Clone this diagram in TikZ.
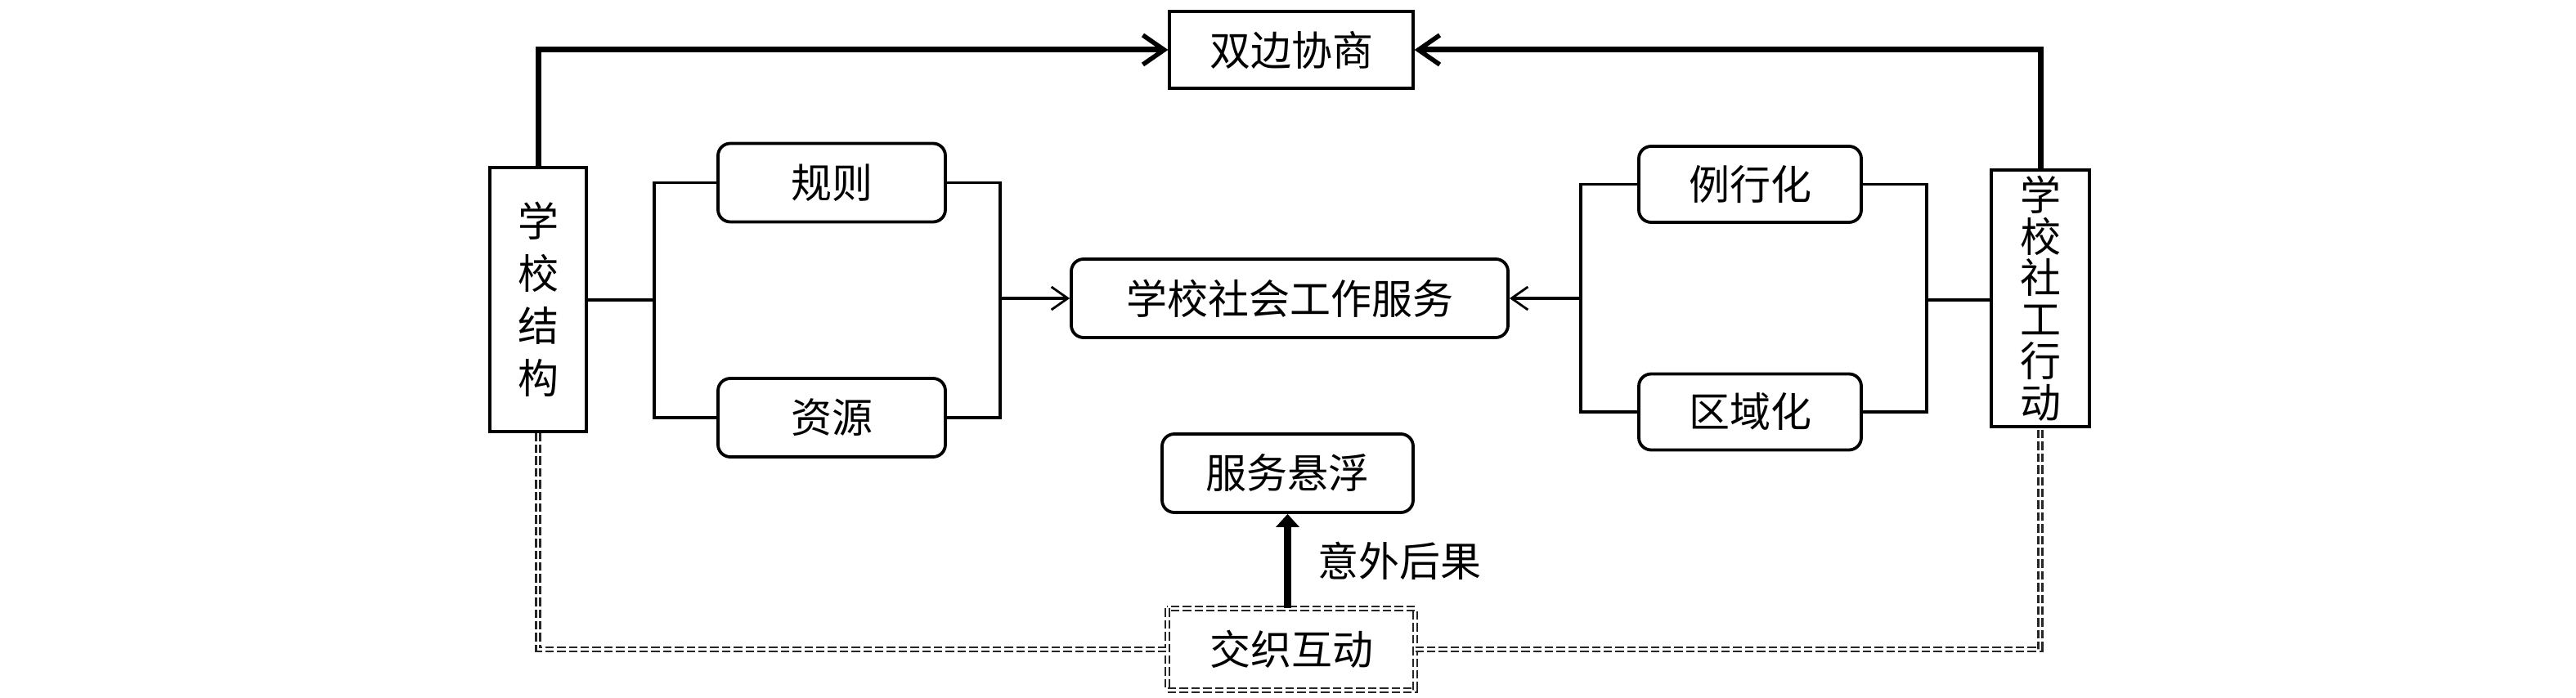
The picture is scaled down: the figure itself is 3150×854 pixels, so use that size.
\documentclass[tikz,border=0pt]{standalone}
\usepackage{fontspec}
\newfontfamily\cjk{Noto Sans CJK SC}
\usetikzlibrary{arrows.meta}
\tikzset{
  plainbox/.style={draw=black, line width=0.8pt, inner sep=0pt, font=\cjk\fontsize{12.5pt}{16pt}\selectfont, align=center},
  roundbox/.style={plainbox, line width=0.95pt, rounded corners=3.75pt},
  dbl/.style={draw=black!85, line width=0.55pt, double=white, double distance=0.7pt, dash pattern=on 2.6pt off 1pt},
  bracket/.style={draw=black, line width=0.8pt},
  midarrow/.style={bracket, -{Straight Barb[length=5pt,width=7pt,line width=0.7pt]}},
  toparrow/.style={draw=black, line width=1.75pt, -{Straight Barb[length=6.5pt,width=9pt,line width=1.4pt]}},
  thickup/.style={draw=black, line width=2.4pt, -{Triangle[length=4pt,width=7pt]}},
  lbl/.style={inner sep=0pt, font=\cjk\fontsize{12.5pt}{16pt}\selectfont}
}
\begin{document}
\begin{tikzpicture}[x=0.25pt, y=-0.25pt]
\useasboundingbox (0,0) rectangle (3150,854);
\node[plainbox, minimum width=74.5pt, minimum height=23.5pt] (neg) at (1579,61) {双边协商};
\node[plainbox, minimum width=29.5pt, minimum height=80.75pt] (struct) at (658,366.5) {学\\校\\结\\构};
\node[roundbox, minimum width=69.5pt, minimum height=24pt] (rule) at (1017,223.5) {规则};
\node[roundbox, minimum width=69.5pt, minimum height=24pt] (res) at (1017,511) {资源};
\node[roundbox, minimum width=133.5pt, minimum height=24pt] (service) at (1577,365) {学校社会工作服务};
\node[roundbox, minimum width=68pt, minimum height=23.25pt] (routine) at (2140,225.5) {例行化};
\node[roundbox, minimum width=68pt, minimum height=23.25pt] (region) at (2140,504) {区域化};
\node[plainbox, minimum width=30pt, minimum height=78.5pt, font=\cjk\fontsize{12.5pt}{12.7pt}\selectfont] (action) at (2495,365) {学\\校\\社\\工\\行\\动};
\node[roundbox, minimum width=76.75pt, minimum height=24pt] (float) at (1574.5,579) {服务悬浮};
\node[plainbox, draw=none, minimum width=75pt, minimum height=24.25pt] (inter) at (1579,794.5) {交织互动};
\draw[dbl] (inter.north west) rectangle (inter.south east);
\node[lbl] (cons) at (1711,686) {意外后果};

% top arrows
\draw[toparrow] (struct.north) |- (neg.west);
\draw[toparrow] (action.north) |- (neg.east);

% left bracket group
\coordinate (lb) at (800,367);
\coordinate (rb) at (1223,365);
\draw[bracket] (rule.west) -| (lb) |- (res.west);
\draw[bracket] (struct.east |- lb) -- (lb);
\draw[bracket] (rule.east) -| (rb) |- (res.east);
\draw[midarrow] (rb) -- (service.west);

% right bracket group
\coordinate (lb2) at (1933,365);
\coordinate (rb2) at (2356,367);
\draw[bracket] (routine.west) -| (lb2) |- (region.west);
\draw[midarrow] (lb2) -- (service.east);
\draw[bracket] (routine.east) -| (rb2) |- (region.east);
\draw[bracket] (rb2) -- (action.west |- rb2);

% unintended consequence
\draw[thickup] (inter.north -| float.south) -- (float.south);

% dashed interaction lines
\draw[dbl] (struct.south) |- (inter.west);
\draw[dbl] (inter.east) -| (action.south);
\end{tikzpicture}
\end{document}
